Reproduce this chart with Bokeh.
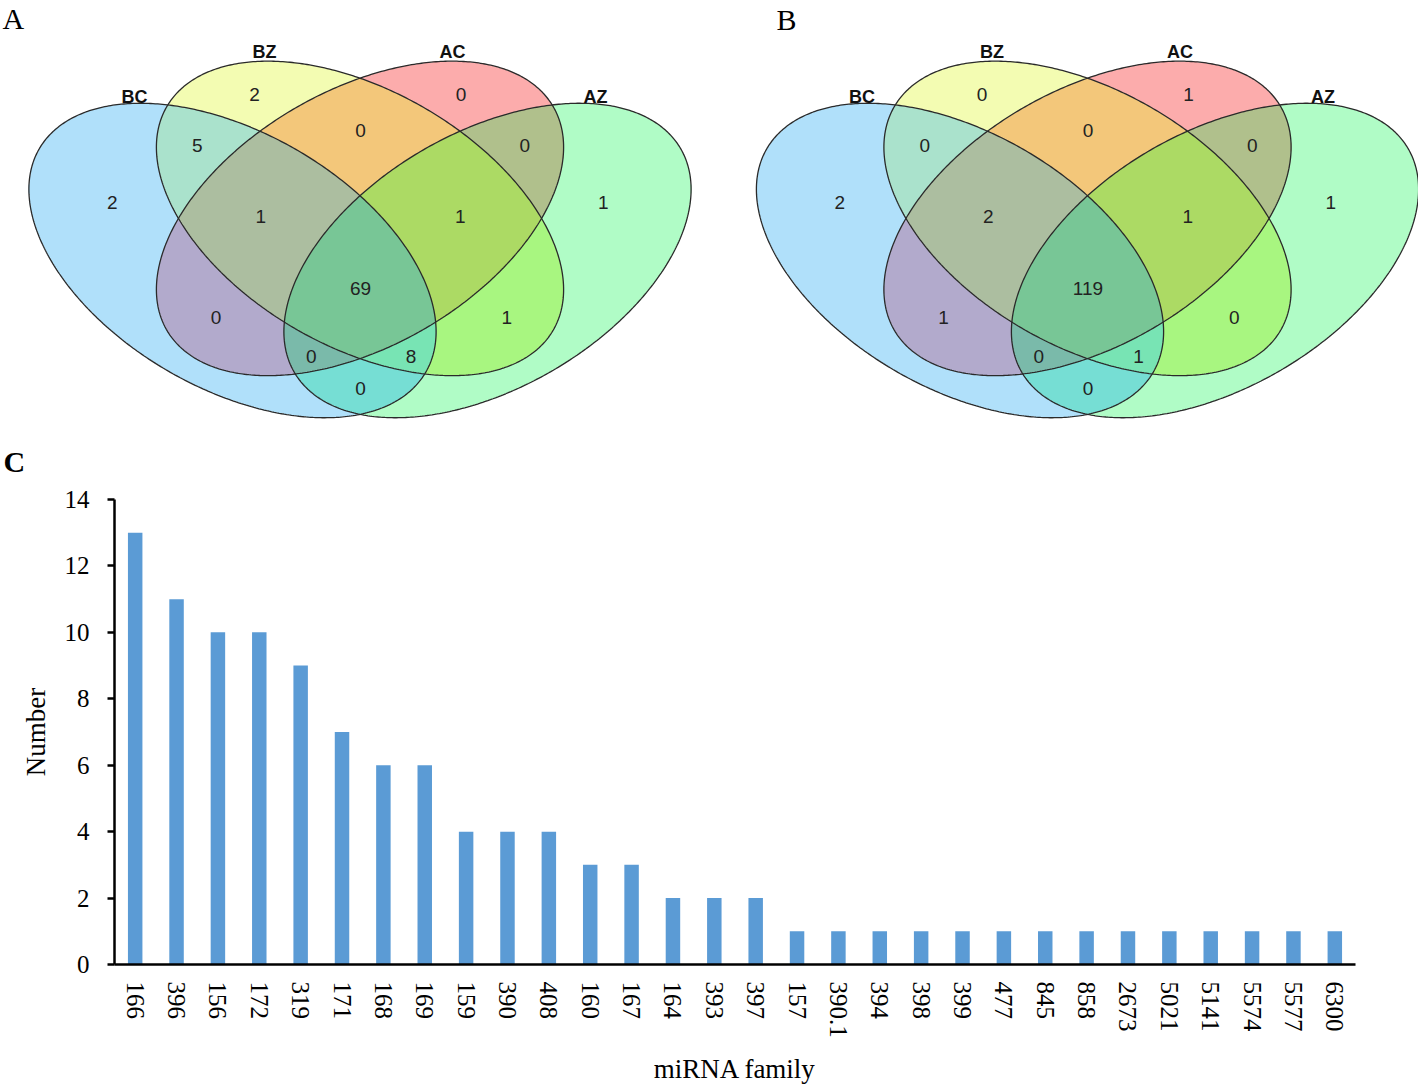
import numpy as np
from bokeh.plotting import figure
from bokeh.layouts import column, row
from bokeh.models import Range1d, FactorRange, FixedTicker
from bokeh.core.properties import value
from bokeh.embed import file_html
from bokeh.resources import INLINE

# ------------------------------------------------------------------ data
set_names = ["BC", "BZ", "AC", "AZ"]
region_sets = [
    ("BC",), ("BZ",), ("AC",), ("AZ",),
    ("BC", "BZ"), ("BZ", "AC"), ("AC", "AZ"),
    ("BC", "BZ", "AC"), ("BZ", "AC", "AZ"), ("BC", "BZ", "AC", "AZ"),
    ("BC", "AC"), ("BZ", "AZ"),
    ("BC", "AC", "AZ"), ("BC", "BZ", "AZ"), ("BC", "AZ"),
]
counts_A = [2, 2, 0, 1, 5, 0, 0, 1, 1, 69, 0, 1, 0, 8, 0]
counts_B = [2, 0, 1, 1, 0, 0, 0, 2, 1, 119, 1, 0, 0, 1, 0]

families = ["166", "396", "156", "172", "319", "171", "168", "169", "159", "390",
            "408", "160", "167", "164", "393", "397", "157", "390.1", "394", "398",
            "399", "477", "845", "858", "2673", "5021", "5141", "5574", "5577", "6300"]
family_counts = [13, 11, 10, 10, 9, 7, 6, 6, 4, 4,
                 4, 3, 3, 2, 2, 2, 1, 1, 1, 1,
                 1, 1, 1, 1, 1, 1, 1, 1, 1, 1]
y_ticks = [0, 2, 4, 6, 8, 10, 12, 14]

# ------------------------------------------------------------------ venn layout (pixel frame, y downwards)
PANEL_W, PANEL_H = 709, 485
CX, CY = 359.5, 217.9
SEMI_A, SEMI_B = 223.2, 127.9
ANG = np.deg2rad(30.0)
ell_offset = {"BC": (232.0 - CX, 260.0 - CY), "BZ": (0.0, 0.0),
              "AC": (0.0, 0.0), "AZ": (CX - 232.0, 260.0 - CY)}
ell_angle = {"BC": ANG, "BZ": ANG, "AC": -ANG, "AZ": -ANG}
set_label_pos = {"BC": (134 - CX, 96), "BZ": (264 - CX, 51), "AC": (452 - CX, 51), "AZ": (595 - CX, 96)}
region_pos = [(111.8, 201.5), (254, 94.1), (460.6, 94.1), (602.9, 201.5),
              (196.8, 145.1), (360, 130.4), (524.2, 145.1),
              (260.3, 216), (459.7, 216), (360, 287.8),
              (215.6, 316.6), (506.3, 316.6),
              (310.8, 355.9), (410.6, 355.9), (360, 387.8)]
region_colors = {
    1: "#b0e0fa", 2: "#f3fcb2", 4: "#fcacac", 8: "#b0fcc6",
    3: "#aae2cc", 6: "#f3c77a", 12: "#b0c08c",
    7: "#acbea0", 14: "#acda64", 15: "#78c696",
    5: "#b2aacc", 10: "#a8f680", 13: "#7abaaa", 11: "#78e4b4", 9: "#76ded4",
}


def hex_rgb(h):
    h = h.lstrip("#")
    return tuple(int(h[i:i + 2], 16) for i in (0, 2, 4))


def venn_panel(counts, shift, x0):
    p = figure(width=PANEL_W, height=PANEL_H, x_range=Range1d(x0, x0 + PANEL_W),
               y_range=Range1d(0, PANEL_H), output_backend="svg",
               toolbar_location=None, x_axis_location=None, y_axis_location=None,
               min_border=0, outline_line_color=None)
    p.xgrid.grid_line_color = None
    p.ygrid.grid_line_color = None
    xs = x0 + np.arange(PANEL_W) + 0.5
    yd = np.arange(PANEL_H) + 0.5
    X, YD = np.meshgrid(xs, yd)
    YR = PANEL_H - YD
    mask = np.zeros(X.shape, dtype=np.int32)
    outlines_x, outlines_y = [], []
    t = np.linspace(0, 2 * np.pi, 500)
    for i, name in enumerate(set_names):
        cx = CX + shift + ell_offset[name][0]
        cy = CY + ell_offset[name][1]
        a = ell_angle[name]
        c, s = np.cos(a), np.sin(a)
        dx, dy = X - cx, YR - cy
        u = dx * c + dy * s
        v = -dx * s + dy * c
        inside = (u / SEMI_A) ** 2 + (v / SEMI_B) ** 2 <= 1.0
        mask |= inside.astype(np.int32) << i
        ox = cx + SEMI_A * np.cos(t) * c - SEMI_B * np.sin(t) * s
        oy = cy + SEMI_A * np.cos(t) * s + SEMI_B * np.sin(t) * c
        outlines_x.append(ox)
        outlines_y.append(PANEL_H - oy)
    img = np.zeros(X.shape, dtype=np.uint32)
    view = img.view(dtype=np.uint8).reshape(X.shape + (4,))
    for m, col in region_colors.items():
        r, g, b = hex_rgb(col)
        sel = mask == m
        view[sel, 0] = r
        view[sel, 1] = g
        view[sel, 2] = b
        view[sel, 3] = 255
    p.image_rgba(image=[img], x=x0, y=0, dw=PANEL_W, dh=PANEL_H)
    p.multi_line(xs=outlines_x, ys=outlines_y, line_color="#2a2a2a", line_width=1.3)
    p.text(x=[CX + shift + set_label_pos[n][0] for n in set_names],
           y=[PANEL_H - set_label_pos[n][1] for n in set_names],
           text=set_names, text_font=value("Liberation Sans"), text_font_style="bold",
           text_font_size="18px", text_align="center", text_baseline="middle",
           text_color="#111111")
    p.text(x=[pos[0] + shift for pos in region_pos],
           y=[PANEL_H - pos[1] for pos in region_pos],
           text=[str(c) for c in counts], text_font=value("Liberation Sans"),
           text_font_size="19px", text_align="center", text_baseline="middle",
           text_color="#222222")
    return p


pA = venn_panel(counts_A, 0.0, 0)
pB = venn_panel(counts_B, 727.5, 709)

letter_kw = dict(text_font=value("Liberation Serif"), text_font_size="30px",
                 text_align="left", text_baseline="middle", text_color="black")
pA.text(x=[2], y=[PANEL_H - 18], text=["A"], **letter_kw)
pB.text(x=[776], y=[PANEL_H - 19], text=["B"], **letter_kw)
pA.text(x=[3], y=[PANEL_H - 461], text=["C"], text_font_style="bold", **letter_kw)

# ------------------------------------------------------------------ bar chart
pC = figure(width=1418, height=1086 - PANEL_H, x_range=FactorRange(factors=families),
            y_range=Range1d(0, 14), output_backend="svg", toolbar_location=None,
            min_border_left=114, min_border_right=63, min_border_top=499 - PANEL_H,
            min_border_bottom=1086 - 965, outline_line_color=None)
pC.vbar(x=families, top=family_counts, width=0.35, fill_color="#5b9bd5", line_color=None)
pC.xgrid.grid_line_color = None
pC.ygrid.grid_line_color = None

serif = "Liberation Serif"
pC.yaxis.ticker = FixedTicker(ticks=y_ticks)
pC.yaxis.axis_label = "Number"
pC.xaxis.axis_label = "miRNA family"
for ax in (pC.xaxis[0], pC.yaxis[0]):
    ax.axis_line_width = 2.5
    ax.axis_line_color = "black"
    ax.major_tick_line_width = 2.5
    ax.major_tick_line_color = "black"
    ax.minor_tick_line_color = None
    ax.major_label_text_font = serif
    ax.major_label_text_font_size = "25px"
    ax.major_label_text_color = "black"
    ax.axis_label_text_font = serif
    ax.axis_label_text_font_size = "27px"
    ax.axis_label_text_font_style = "normal"
    ax.axis_label_text_color = "black"
pC.yaxis.major_tick_out = 7
pC.yaxis.major_tick_in = 0
pC.yaxis.major_label_standoff = 18
pC.yaxis.axis_label_standoff = 11
pC.xaxis.major_tick_out = 0
pC.xaxis.major_tick_in = 0
pC.xaxis.major_label_orientation = "vertical"
pC.xaxis.major_label_standoff = 17
pC.xaxis.axis_label_standoff = 13

layout = column(row(pA, pB), pC)
open("out.html", "w").write(file_html(layout, INLINE))
